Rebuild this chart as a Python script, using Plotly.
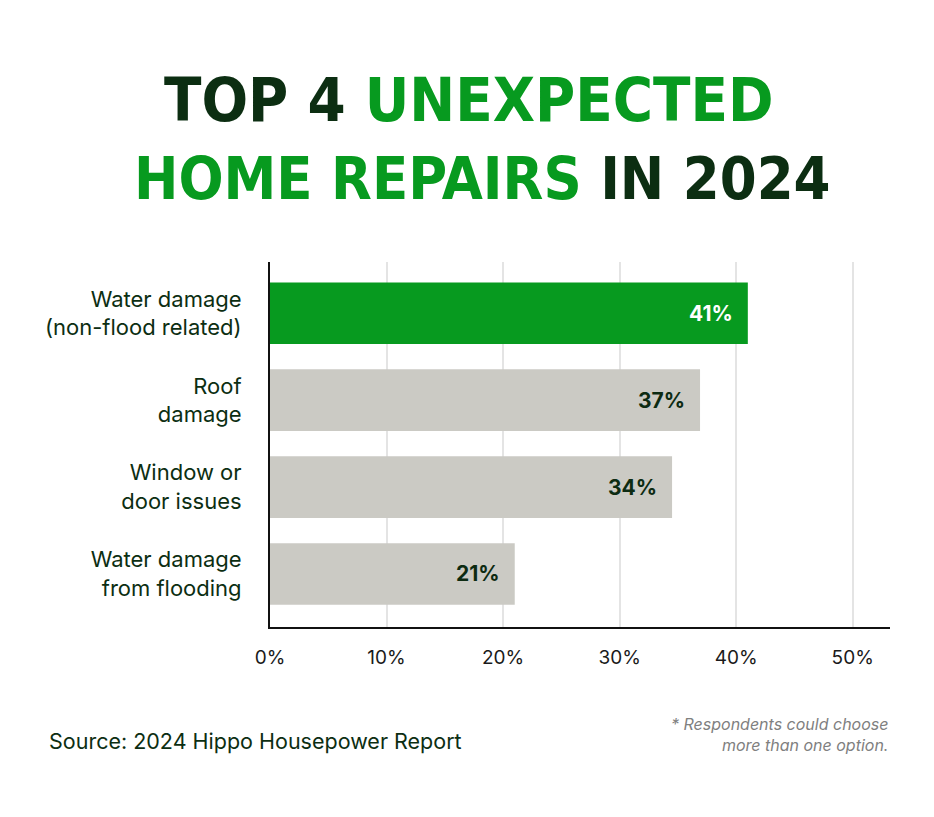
import plotly.graph_objects as go

categories = ["Water damage<br>(non-flood related)", "Roof<br>damage", "Window or<br>door issues", "Water damage<br>from flooding"]
values = [41, 36.9, 34.5, 21]
value_labels = ["41%", "37%", "34%", "21%"]
bar_colors = ["#079a1f", "#cbcac4", "#cbcac4", "#cbcac4"]
label_colors = ["#ffffff", "#0d2b12", "#0d2b12", "#0d2b12"]
tick_vals = [0, 10, 20, 30, 40, 50]
tick_text = ["0%", "10%", "20%", "30%", "40%", "50%"]

DARK = "#0c2e12"
GREEN = "#079a1f"

ypos = list(range(len(categories)))

fig = go.Figure()
fig.add_trace(go.Bar(
    x=values, y=ypos, orientation="h",
    marker=dict(color=bar_colors, line=dict(width=0)),
    width=0.71, hoverinfo="skip",
))

for i, (v, t, c) in enumerate(zip(values, value_labels, label_colors)):
    fig.add_annotation(x=v, y=i, xref="x", yref="y", text=f"<b>{t}</b>",
                       showarrow=False, xanchor="right", xshift=-13,
                       font=dict(family="Inter", size=21, color=c))

fig.add_annotation(x=0.5, y=1.452, xref="paper", yref="paper",
                   xshift=-112, yshift=-2,
                   text=f"<span style='color:{DARK}'>TOP 4 </span><span style='color:{GREEN}'>UNEXPECTED</span>",
                   showarrow=False, xanchor="center", yanchor="middle",
                   font=dict(family="DejaVu Sans Condensed", size=61, weight=700))
fig.add_annotation(x=0.5, y=1.238, xref="paper", yref="paper",
                   xshift=-98, yshift=-3,
                   text=f"<span style='color:{GREEN}'>HOME REPAIRS</span><span style='color:{DARK}'> IN 2024</span>",
                   showarrow=False, xanchor="center", yanchor="middle",
                   font=dict(family="DejaVu Sans Condensed", size=59, weight=700))

fig.add_annotation(x=0, y=0, xref="paper", yref="paper", xshift=-223, yshift=-114,
                   text="Source: 2024 Hippo Housepower Report", showarrow=False,
                   xanchor="left", yanchor="middle",
                   font=dict(family="Inter", size=21.5, color=DARK))
fig.add_annotation(x=1, y=0, xref="paper", yref="paper", xshift=0, yshift=-107,
                   text="<i>* Respondents could choose<br>more than one option.</i>", showarrow=False,
                   xanchor="right", yanchor="middle", align="right",
                   font=dict(family="Inter", size=16, color="#808080"))

fig.update_layout(
    width=934, height=817,
    margin=dict(l=262, r=52, t=254, b=198),
    paper_bgcolor="white", plot_bgcolor="white",
    showlegend=False,
    xaxis=dict(range=[0, 53.2], tickvals=tick_vals, ticktext=tick_text,
               showgrid=True, gridcolor="#e4e4e4", gridwidth=1.5,
               showline=True, linecolor="#111111", linewidth=2,
               zeroline=False, ticks="", ticklabelstandoff=12,
               tickfont=dict(family="Inter", size=19, color="#1a1a1a"),
               fixedrange=True),
    yaxis=dict(range=[3.61, -0.59], tickvals=ypos, ticktext=categories,
               showgrid=False, showline=True, linecolor="#111111", linewidth=2,
               zeroline=False, ticks="", ticklabelstandoff=22,
               tickfont=dict(family="Inter", size=22, color=DARK),
               fixedrange=True),
)

fig.write_html("out.html")
